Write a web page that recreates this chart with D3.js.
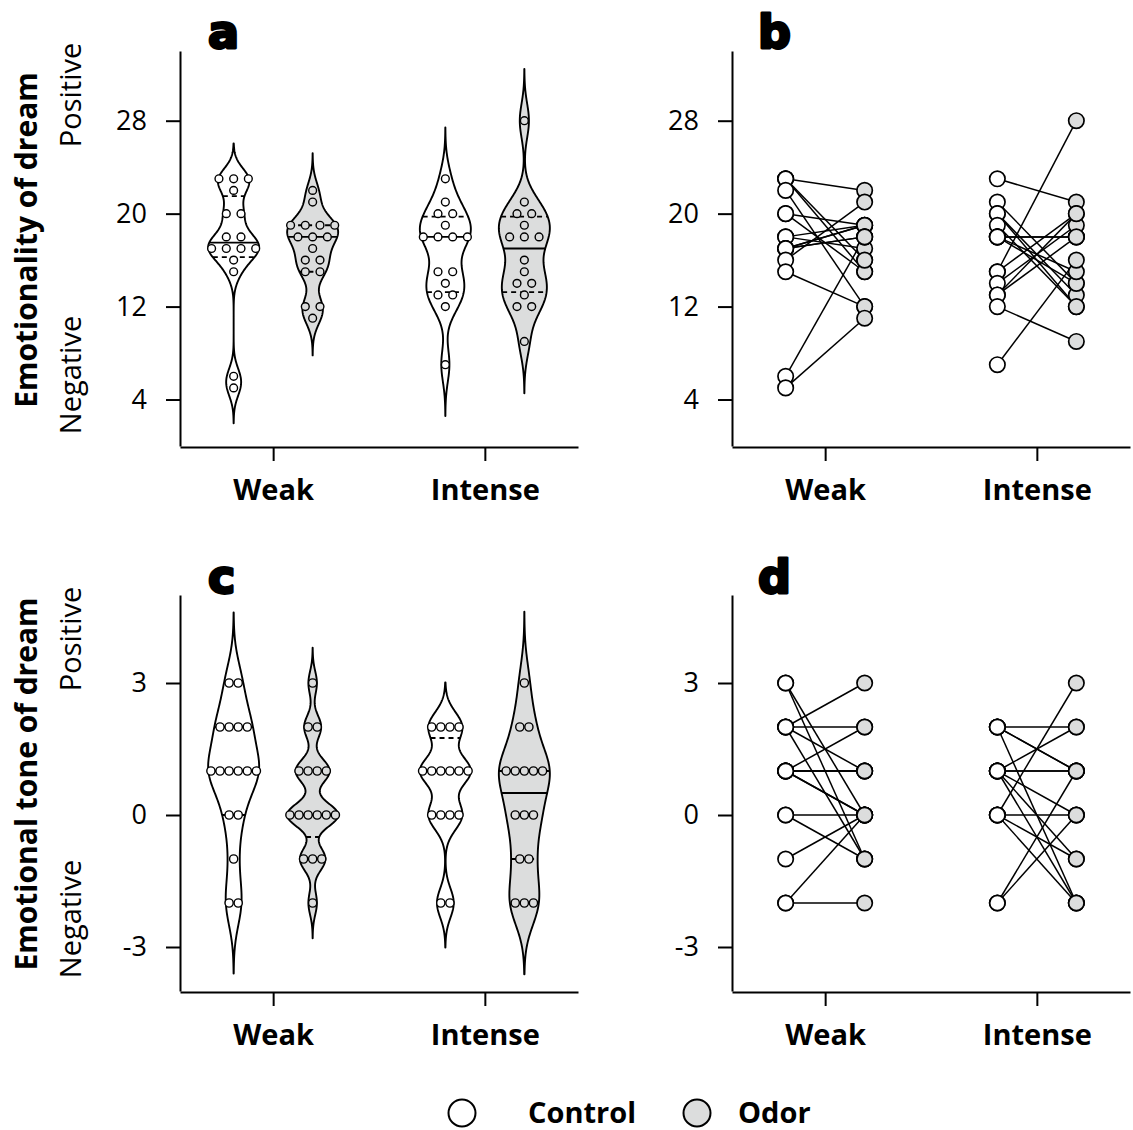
<!DOCTYPE html>
<html>
<head>
<meta charset="utf-8">
<script src="https://cdn.jsdelivr.net/npm/d3@7"></script>
<style>
  body { margin: 0; background: #fff; }
  text { font-family: "Open Sans", "Noto Sans", sans-serif; fill: #000; }
</style>
</head>
<body>
<svg id="chart" width="1133" height="1130"></svg>
<script>
// ---- data: one entry per participant, index i pairs control[i] with odor[i]
var groups = ["Weak", "Intense"];
var conditions = ["Control", "Odor"];

// emotionality of dream (null = no control report)
var emoWeakControl    = [23, 23, 23, 22, 20, 20, 18, 18, 17, 17, 17, 17, 16, 15, 6, 5, null];
var emoWeakOdor       = [22, 16, 15, 12, 19, 15, 19, 17, 19, 19, 18, 18, 21, 12, 18, 11, 16];
var emoIntenseControl = [23, 21, 20, 20, 19, 18, 18, 18, 18, 15, 15, 14, 13, 13, 12, 7];
var emoIntenseOdor    = [21, 14, 12, 13, 12, 18, 18, 14, 15, 28, 20, 19, 20, 18, 9, 16];

// emotional tone of dream
var toneWeakControl    = [3, 3, 2, 2, 2, 2, 1, 1, 1, 1, 1, 1, 0, 0, -1, -2, -2];
var toneWeakOdor       = [0, -1, 3, 2, 1, -1, 2, 1, 1, 1, 0, 0, 0, -1, 0, -2, 0];
var toneIntenseControl = [2, 2, 2, 2, 1, 1, 1, 1, 1, 1, 0, 0, 0, 0, -2, -2];
var toneIntenseOdor    = [2, 1, 1, -2, 2, 1, 1, 0, -1, -2, 0, -1, 3, -2, 1, 0];

var emoTicks = [4, 12, 20, 28];
var toneTicks = [-3, 0, 3];

var emo = {
    Weak: {Control: emoWeakControl, Odor: emoWeakOdor},
    Intense: {Control: emoIntenseControl, Odor: emoIntenseOdor}
};
var tone = {
    Weak: {Control: toneWeakControl, Odor: toneWeakOdor},
    Intense: {Control: toneIntenseControl, Odor: toneIntenseOdor}
};

var fill = {Control: "#ffffff", Odor: "#dcdddd"};
var shift = {Control: -39.5, Odor: 39.5};
var panelWidth = 398;

var svg = d3.select("#chart");

var yEmo = d3.scaleLinear().domain([0, 34]).range([446, 51]);
var yTone = d3.scaleLinear().domain([-4, 5]).range([991, 595]);
var x = d3.scalePoint().domain(groups).range([0, panelWidth]).padding(0.44);

function clean(v) { return v.filter(function (d) { return d !== null; }); }

/**
 * Quartile the way the original software does it (n+1 based).
 */
function quantile6(sorted, p) {
    var n = sorted.length, h = (n + 1) * p, lo = Math.floor(h);
    if (lo < 1) return sorted[0];
    if (lo >= n) return sorted[n - 1];
    return sorted[lo - 1] + (h - lo) * (sorted[lo] - sorted[lo - 1]);
}

/**
 * Gaussian kernel density, cut 3 bandwidths beyond the data.
 */
function density(v) {
    var s = v.slice().sort(d3.ascending), n = s.length;
    var iqr = d3.quantileSorted(s, 0.75) - d3.quantileSorted(s, 0.25);
    var bw = 0.7 * 0.9 * Math.min(d3.deviation(s), iqr / 1.34) * Math.pow(n, -0.2);
    var lo = s[0] - 3 * bw, hi = s[n - 1] + 3 * bw;
    var pts = d3.range(0, 301).map(function (i) {
        var t = lo + (hi - lo) * i / 300;
        return {v: t, d: d3.mean(s, function (x) { return Math.exp(-0.5 * Math.pow((t - x) / bw, 2)); })};
    });
    var m = d3.max(pts, function (p) { return p.d; });
    pts.forEach(function (p) { p.d /= m; });
    return pts;
}

function densityAt(pts, t) {
    for (var i = 1; i < pts.length; i++) {
	if (pts[i].v >= t) {
	    var a = pts[i - 1], b = pts[i], f = (t - a.v) / (b.v - a.v);
	    return a.d + f * (b.d - a.d);
	}
    }
    return 0;
}

function drawAxes(g, y, ticks) {
    var ya = g.append("g")
	.call(d3.axisLeft(y).tickValues(ticks).tickFormat(String)
	      .tickSize(14).tickSizeOuter(0).tickPadding(19));
    var xa = g.append("g").attr("transform", "translate(0," + (y.range()[0] + 1) + ")")
	.call(d3.axisBottom(x).tickSize(14).tickSizeOuter(0).tickPadding(18));
    [ya, xa].forEach(function (a) {
	a.select(".domain").attr("stroke-width", 2);
	a.selectAll(".tick line").attr("stroke-width", 2);
    });
    ya.selectAll(".tick text").attr("font-size", 27).style("font-family", "'Open Sans'");
    xa.selectAll(".tick text").attr("font-size", 29).attr("font-weight", "bold").style("font-family", "'Open Sans'");
}

function drawViolins(g, y, data, opt) {
    groups.forEach(function (grp) {
	conditions.forEach(function (cond) {
	    var v = clean(data[grp][cond]);
	    var cx = x(grp) + shift[cond];
	    var pts = density(v);
	    var half = 25.5;
	    var area = d3.area()
		.x0(function (p) { return cx - p.d * half; })
		.x1(function (p) { return cx + p.d * half; })
		.y(function (p) { return y(p.v); });
	    g.append("path").datum(pts).attr("d", area)
		.attr("fill", fill[cond]).attr("stroke", "#000").attr("stroke-width", 1.9)
		.attr("stroke-linejoin", "round");

	    var s = v.slice().sort(d3.ascending);
	    [0.25, 0.5, 0.75].forEach(function (p) {
		var q = quantile6(s, p);
		var hw = densityAt(pts, q) * half;
		g.append("line")
		    .attr("x1", cx - hw).attr("x2", cx + hw)
		    .attr("y1", y(q)).attr("y2", y(q))
		    .attr("stroke", "#000").attr("stroke-width", 1.8)
		    .attr("stroke-dasharray", p === 0.5 ? null : "5,4");
	    });

	    var rows = d3.rollup(v, function (r) { return r.length; }, function (d) { return d; });
	    rows.forEach(function (k, val) {
		for (var j = 0; j < k; j++) {
		    g.append("circle")
			.attr("cx", cx + (j - (k - 1) / 2) * opt.spacing)
			.attr("cy", y(val)).attr("r", opt.r)
			.attr("fill", fill[cond]).attr("stroke", "#000").attr("stroke-width", 1.4);
		}
	    });
	});
    });
}

function drawPaired(g, y, data) {
    groups.forEach(function (grp) {
	var c = data[grp].Control, o = data[grp].Odor;
	var xc = x(grp) + shift.Control, xo = x(grp) + shift.Odor;
	c.forEach(function (cv, i) {
	    if (cv === null || o[i] === null) return;
	    g.append("line")
		.attr("x1", xc).attr("y1", y(cv)).attr("x2", xo).attr("y2", y(o[i]))
		.attr("stroke", "#000").attr("stroke-width", 1.5);
	});
	conditions.forEach(function (cond) {
	    var xp = x(grp) + shift[cond];
	    g.selectAll(null).data(clean(data[grp][cond])).enter().append("circle")
		.attr("cx", xp).attr("cy", function (d) { return y(d); }).attr("r", 7.7)
		.attr("fill", fill[cond]).attr("stroke", "#000").attr("stroke-width", 1.7);
	});
    });
}

function panelLabel(px, py, s) {
    svg.append("text").attr("x", px).attr("y", py).text(s)
	.attr("font-size", 46).attr("font-weight", "bold")
	.style("font-family", "'DejaVu Sans'")
	.attr("stroke", "#000").attr("stroke-width", 2.8).attr("stroke-linejoin", "round");
}

function yTitle(cy, title) {
    svg.append("text").attr("transform", "translate(37," + cy + ") rotate(-90)")
	.attr("text-anchor", "middle").attr("font-size", 30).attr("font-weight", "bold")
	.text(title);
    svg.append("text").attr("transform", "translate(81," + (cy - 145) + ") rotate(-90)")
	.attr("text-anchor", "middle").attr("font-size", 29).text("Positive");
    svg.append("text").attr("transform", "translate(81," + (cy + 135) + ") rotate(-90)")
	.attr("text-anchor", "middle").attr("font-size", 29).text("Negative");
}

var ga = svg.append("g").attr("transform", "translate(180,0)");
var gb = svg.append("g").attr("transform", "translate(732,0)");
var gc = svg.append("g").attr("transform", "translate(180,0)");
var gd = svg.append("g").attr("transform", "translate(732,0)");

drawAxes(ga, yEmo, emoTicks);
drawAxes(gb, yEmo, emoTicks);
drawAxes(gc, yTone, toneTicks);
drawAxes(gd, yTone, toneTicks);

drawViolins(ga, yEmo, emo, {r: 3.9, spacing: 14.7});
drawViolins(gc, yTone, tone, {r: 4.1, spacing: 9.1});
drawPaired(gb, yEmo, emo);
drawPaired(gd, yTone, tone);

panelLabel(208, 48, "a");
panelLabel(758, 48, "b");
panelLabel(208, 593, "c");
panelLabel(758, 593, "d");

yTitle(240, "Emotionality of dream");
yTitle(784, "Emotional tone of dream");

// legend
var legend = svg.append("g").attr("transform", "translate(0,1113)");
var legendX = {Control: 462, Odor: 697};
var legendText = {Control: 528, Odor: 738};
conditions.forEach(function (cond) {
    legend.append("circle").attr("cx", legendX[cond]).attr("cy", 0).attr("r", 13.5)
	.attr("fill", fill[cond]).attr("stroke", "#000").attr("stroke-width", 2);
    legend.append("text").attr("x", legendText[cond]).attr("y", 0)
	.attr("dy", "0.35em").attr("font-size", 29).attr("font-weight", "bold").text(cond);
});
</script>
</body>
</html>
